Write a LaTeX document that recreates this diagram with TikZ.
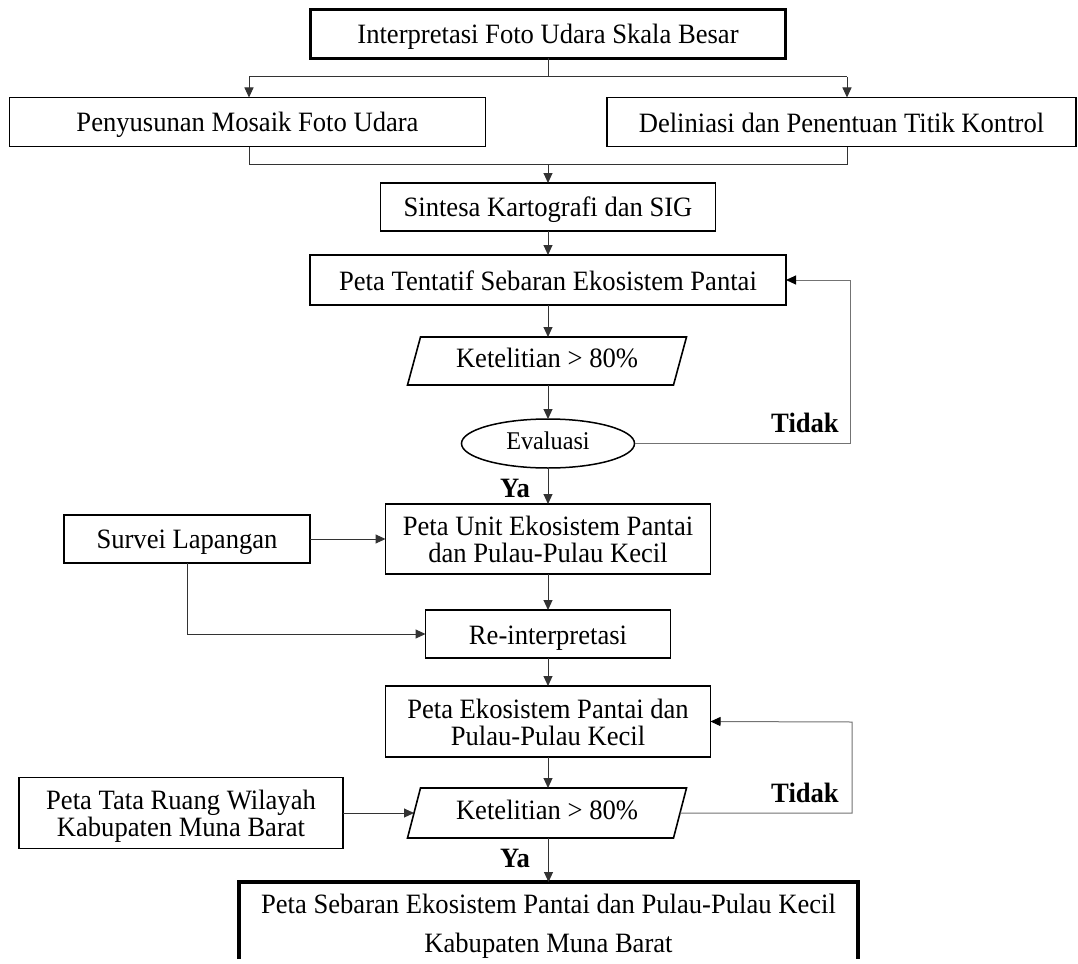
\documentclass[tikz,border=0pt]{standalone}
\usepackage{fontspec}
\setmainfont{Liberation Serif}[FakeStretch=0.95]
\usetikzlibrary{arrows.meta,shapes.geometric,calc}
\newcommand{\tsb}{\rule{0pt}{26pt}}
\newcommand{\bsb}{\rule[-6pt]{0pt}{6pt}}
\newcommand{\tsp}{\rule{0pt}{22pt}}
\newcommand{\bsp}{\rule[-9pt]{0pt}{9pt}}
\newcommand{\tse}{\rule{0pt}{20pt}}
\newcommand{\bse}{\rule[-9pt]{0pt}{9pt}}
\begin{document}
\begin{tikzpicture}[x=1pt,y=-1pt,
  every node/.style={inner sep=0pt,outer sep=0pt,font=\fontsize{28}{27}\selectfont,text=black},
  box/.style={align=center,draw=black,line width=1.6pt,minimum height=48pt},
  bigbox/.style={align=center,draw=black,line width=3.4pt,minimum height=48pt},
  plain/.style={align=center,minimum height=48pt},
  ell/.style={draw=black,line width=1.5pt,ellipse,minimum width=173pt,minimum height=49pt,font=\fontsize{25.5}{26}\selectfont},
  lbl/.style={font=\fontsize{28}{27}\selectfont\bfseries},
  ln/.style={draw=black!80,line width=1pt},
  arr/.style={ln,-{Triangle[length=10pt,width=9pt]}},
  lp/.style={draw=black!55,line width=1pt,-{Triangle[length=10pt,width=9pt,fill=black,color=black]}},
  para/.style={draw=black,line width=1.6pt}
]
\useasboundingbox (0,0) rectangle (1078,963);
\fill[white] (0,0) rectangle (1078,963);

% nodes
\node[bigbox,minimum width=475pt,minimum height=49pt] (b1) at (548,34) {\tsb Interpretasi Foto Udara Skala Besar\bsb};
\node[box,minimum width=476pt,minimum height=49pt] (b2) at (247.5,122) {\tsb Penyusunan Mosaik Foto Udara\bsb};
\node[box,minimum width=469pt,minimum height=49pt] (b3) at (841.5,122) {\tsb Deliniasi dan Penentuan Titik Kontrol\bsb};
\node[box,minimum width=335pt] (b4) at (548,207) {\tsb Sintesa Kartografi dan SIG\bsb};
\node[box,minimum width=476pt,minimum height=50pt] (b5) at (548,280) {\tsb Peta Tentatif Sebaran Ekosistem Pantai\bsb};
\node[plain,minimum width=266pt] (p1) at (547,361) {\tsp Ketelitian > 80\%\bsp};
\draw[para] ($(p1.north west)+(6.5,0)$) -- ($(p1.north east)+(6.5,0)$) -- ($(p1.south east)+(-6.5,0)$) -- ($(p1.south west)+(-6.5,0)$) -- cycle;
\node[ell] (ev) at (548,443.5) {\tse Evaluasi\bse};
\node[box,minimum width=325pt,minimum height=70pt] (b6) at (548,539) {\tsb Peta Unit Ekosistem Pantai\\dan Pulau-Pulau Kecil\bsb};
\node[box,minimum width=246pt] (sv) at (187,539) {\tsb Survei Lapangan\bsb};
\node[box,minimum width=245pt] (ri) at (548,634) {\tsb Re-interpretasi\bsb};
\node[box,minimum width=325pt,minimum height=71pt] (b8) at (548,721.5) {\tsb Peta Ekosistem Pantai dan\\Pulau-Pulau Kecil\bsb};
\node[plain,minimum width=266pt,minimum height=50pt] (p2) at (547,813) {\tsp Ketelitian > 80\%\bsp};
\draw[para] ($(p2.north west)+(6.5,0)$) -- ($(p2.north east)+(6.5,0)$) -- ($(p2.south east)+(-6.5,0)$) -- ($(p2.south west)+(-6.5,0)$) -- cycle;
\node[box,minimum width=324pt,minimum height=71pt,font=\fontsize{28}{25}\selectfont] (tr) at (181,813) {\tsb Peta Tata Ruang Wilayah\\Kabupaten Muna Barat\bsb};
\node[align=center,minimum width=619pt,inner ysep=5pt,anchor=north,font=\fontsize{28}{39}\selectfont] (fin) at (548.5,882) {\tsb Peta Sebaran Ekosistem Pantai dan Pulau-Pulau Kecil\\Kabupaten Muna Barat\bsb};
\draw[line width=3.4pt,black] ([yshift=4pt]fin.south west) -- (fin.north west) -- (fin.north east) -- ([yshift=4pt]fin.south east);

% labels
\node[lbl] (t1) at (805,423) {Tidak};
\node[lbl] (y1) at (515,488) {Ya};
\node[lbl] (t2) at (805,793) {Tidak};
\node[lbl] (y2) at (515,858) {Ya};

% coordinates
\coordinate (sL) at (249,77);
\coordinate (sR) at (847,77);
\coordinate (jL) at (249,164);
\coordinate (jR) at (847,164);
\coordinate (l1) at (850,280);
\coordinate (l2) at (852,722);

% connectors
\draw[ln] (b1.south) -- (b1.south |- sL);
\draw[ln] (sL) -- (sR);
\draw[arr] (sL) -- (sL |- b2.north);
\draw[arr] (sR) -- (sR |- b3.north);
\draw[ln] (jL |- b2.south) -- (jL) -- (jR) -- (jR |- b3.south);
\draw[arr] (b4.north |- jL) -- (b4.north);
\draw[arr] (b4.south) -- (b5.north);
\draw[arr] (b5.south) -- (b5.south |- p1.north);
\draw[arr] (ev.north |- p1.south) -- (ev.north);
\draw[lp] (ev.east) -| (l1) -- (b5.east);
\draw[arr] (ev.south) -- (b6.north);
\draw[arr] (sv.east) -- (b6.west);
\draw[arr] (sv.south) |- (ri.west);
\draw[arr] (b6.south) -- (ri.north);
\draw[arr] (ri.south) -- (b8.north);
\draw[arr] (b8.south) -- (b8.south |- p2.north);
\draw[arr] (tr.east) -- (p2.west);
\draw[lp] (p2.east) -| (l2) -- (b8.east);
\draw[arr] (fin.north |- p2.south) -- (fin.north);
\end{tikzpicture}
\end{document}
